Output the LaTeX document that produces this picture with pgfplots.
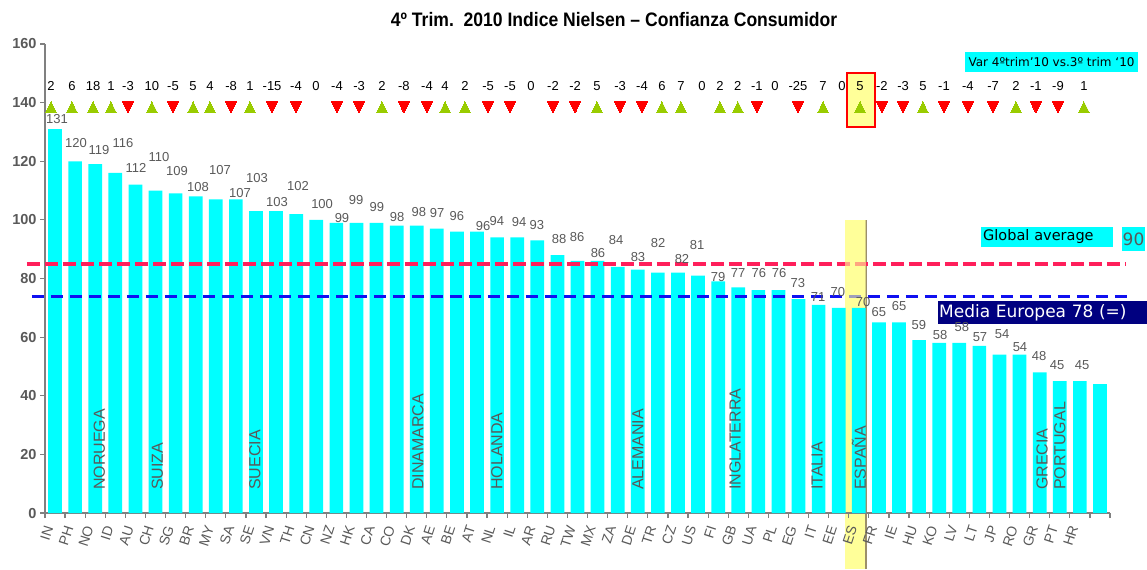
\documentclass[border=0pt]{standalone}
\usepackage{pgfplots}
\pgfplotsset{compat=1.18}
\usepackage{fontspec}
\setmainfont{Liberation Sans}
\newfontfamily\dejavu{DejaVu Sans}
\usepackage{graphicx}
\definecolor{barcyan}{HTML}{00FFFF}
\definecolor{axgray}{HTML}{808080}
\definecolor{txtgray}{HTML}{595959}
\definecolor{upgreen}{HTML}{99CC00}
\definecolor{downred}{HTML}{FF0000}
\definecolor{avgred}{HTML}{FF1F5B}
\definecolor{eublue}{HTML}{1010F0}
\definecolor{hlyellow}{HTML}{FFFF99}
\definecolor{navybox}{HTML}{000080}
\definecolor{hlline}{HTML}{9C8F6A}

\begin{document}
\begin{tikzpicture}
\begin{axis}[
  set layers,
  scale only axis, width=1065bp, height=469bp,
  xmin=-0.5, xmax=52.5, ymin=0, ymax=160,
  clip=false,
  axis x line*=bottom, axis y line*=left,
  axis line style={draw=axgray, line width=1.5bp},
  ytick={0,20,...,160},
  xtick={0,...,52},
  xticklabels={IN,PH,NO,ID,AU,CH,SG,BR,MY,SA,SE,VN,TH,CN,NZ,HK,CA,CO,DK,AE,BE,AT,NL,IL,AR,RU,TW,MX,ZA,DE,TR,CZ,US,FI,GB,UA,PL,EG,IT,EE,ES,FR,IE,HU,KO,LV,LT,JP,RO,GR,PT,HR,{}},
  minor xtick={-0.5,0.5,...,52.5},
  tick align=outside,
  major tick length=5bp, minor tick length=5bp,
  major x tick style={draw=none},
  minor x tick style={draw=axgray, line width=1.2bp},
  ytick style={draw=axgray, line width=1.2bp},
  /pgf/number format/assume math mode=true,
  yticklabel style={font=\bfseries\fontsize{14.5bp}{16bp}\selectfont, text=txtgray},
  xticklabel style={font=\fontsize{14bp}{15bp}\selectfont, text=txtgray, xshift=-6bp, yshift=-8bp, rotate=72, anchor=east, inner sep=0pt},
]
\coordinate (BL) at (rel axis cs:0,0);
\coordinate (TR) at (rel axis cs:1,1);

% ES highlight (behind bars and tick labels)
\begin{pgfonlayer}{axis background}
\fill[hlyellow] (axis cs:39.31,-19.1) rectangle (axis cs:40.36,100);
\draw[hlline, line width=1.2bp] (axis cs:40.36,-19.1) -- (axis cs:40.36,100);
\end{pgfonlayer}

% bars
\addplot[ybar, bar width=13.7bp, bar shift=0pt, fill=barcyan, draw=none] coordinates {
(0,131)(1,120)(2,119)(3,116)(4,112)(5,110)(6,109)(7,108)(8,107)(9,107)
(10,103)(11,103)(12,102)(13,100)(14,99)(15,99)(16,99)(17,98)(18,98)(19,97)
(20,96)(21,96)(22,94)(23,94)(24,93)(25,88)(26,86)(27,86)(28,84)(29,83)
(30,82)(31,82)(32,81)(33,79)(34,77)(35,76)(36,76)(37,73)(38,71)(39,70)
(40,70)(41,65)(42,65)(43,59)(44,58)(45,58)(46,57)(47,54)(48,54)(49,48)
(50,45)(51,45)(52,44)};

% reference lines
\addplot[avgred, line width=3.5bp, dash pattern=on 13bp off 5bp] coordinates {(-1.40,85) (53.25,85)};
\addplot[eublue, line width=3bp, dash pattern=on 12bp off 7bp] coordinates {(-1.15,74) (53.5,74)};
\fill[hlyellow, opacity=0.6] (axis cs:39.31,70.6) rectangle (axis cs:40.36,100);

% value labels
\addplot[draw=none, mark=none, nodes near coords, point meta=explicit symbolic,
  nodes near coords style={anchor=center, font=\fontsize{13bp}{14bp}\selectfont, text=txtgray, inner sep=0pt}]
  table[x=x, y=y, meta=t] {
x y t
0.10 134.4 131
1.04 126.2 120
2.19 123.8 119
3.38 126.2 116
4.03 117.7 112
5.17 121.5 110
6.07 116.7 109
7.11 111.2 108
8.21 117.0 107
9.20 109.2 107
10.05 114.3 103
11.05 106.1 103
12.09 111.6 102
13.29 105.4 100
14.28 100.6 99
14.98 106.8 99
16.02 104.4 99
17.02 101.0 98
18.11 102.7 98
19.01 102.4 97
20.00 101.3 96
21.30 97.9 96
21.99 99.6 94
23.09 99.3 94
23.98 98.3 93
25.08 93.5 88
25.98 94.2 86
27.02 88.7 86
27.92 93.1 84
29.01 87.3 83
30.01 92.1 82
31.20 86.7 82
31.95 91.4 81
33.00 80.5 79
33.99 81.9 77
35.03 81.9 76
36.03 81.9 76
36.97 78.5 73
37.97 73.7 71
38.96 75.4 70
40.21 72.0 70
41.00 68.6 65
42.00 70.6 65
42.99 64.1 59
44.04 60.7 58
45.13 63.5 58
46.03 60.0 57
47.13 61.1 54
48.02 56.6 54
48.97 53.6 48
49.87 50.5 45
51.11 50.5 45
};

% country names inside bars
\addplot[draw=none, mark=none, nodes near coords, point meta=explicit symbolic,
  nodes near coords style={rotate=90, anchor=west, font=\fontsize{16bp}{18bp}\selectfont, text=txtgray, inner sep=0pt}]
  table[x=x, y=y, meta=t] {
x y t
2.20 7.85 NORUEGA
5.09 7.85 SUIZA
9.95 7.85 SUECIA
18.06 7.85 DINAMARCA
21.99 7.85 HOLANDA
29.01 7.85 ALEMANIA
33.84 7.85 INGLATERRA
37.93 7.85 ITALIA
40.01 7.85 ESPAÑA
49.12 7.85 GRECIA
50.01 7.85 PORTUGAL
};

% highlight box around Spain variation
\draw[downred, line width=1.5bp, fill=hlyellow] (axis cs:39.41,131.7) rectangle (axis cs:40.81,150.1);

% variation triangles
\addplot[upgreen, only marks, mark=triangle*, mark size=7.3bp, mark options={xscale=0.85, fill=upgreen, draw=upgreen, line width=0pt}] table[x=x, y=y] {
x y
-0.20 137.8
0.84 137.8
1.89 137.8
2.78 137.8
4.82 137.8
6.87 137.8
7.71 137.8
9.70 137.8
16.27 137.8
19.41 137.8
20.40 137.8
26.97 137.8
30.20 137.8
31.15 137.8
33.09 137.8
33.98 137.8
38.22 137.8
40.06 137.8
43.19 137.8
47.82 137.8
51.20 137.8
};
\addplot[downred, only marks, mark=triangle*, mark size=7.3bp, mark options={rotate=180, xscale=0.85, fill=downred, draw=downred, line width=0pt}] table[x=x, y=y] {
x y
3.63 139.0
5.87 139.0
8.76 139.0
10.80 139.0
11.99 139.0
14.03 139.0
15.13 139.0
17.36 139.0
18.51 139.0
21.55 139.0
22.64 139.0
24.78 139.0
25.88 139.0
28.12 139.0
29.21 139.0
34.93 139.0
36.97 139.0
41.15 139.0
42.20 139.0
44.24 139.0
45.43 139.0
46.68 139.0
48.81 139.0
49.91 139.0
};

% variation values
\addplot[draw=none, mark=none, nodes near coords, point meta=explicit symbolic,
  nodes near coords style={anchor=center, font=\fontsize{13bp}{15bp}\selectfont, text=black, inner sep=0pt}]
  table[x=x, y=y, meta=t] {
x y t
-0.20 145.7 2
0.84 145.7 6
1.89 145.7 18
2.78 145.7 1
3.63 145.7 -3
4.82 145.7 10
5.87 145.7 -5
6.87 145.7 5
7.71 145.7 4
8.76 145.7 -8
9.70 145.7 1
10.80 145.7 -15
11.99 145.7 -4
12.99 145.7 0
14.03 145.7 -4
15.13 145.7 -3
16.27 145.7 2
17.36 145.7 -8
18.51 145.7 -4
19.41 145.7 4
20.40 145.7 2
21.55 145.7 -5
22.64 145.7 -5
23.69 145.7 0
24.78 145.7 -2
25.88 145.7 -2
26.97 145.7 5
28.12 145.7 -3
29.21 145.7 -4
30.20 145.7 6
31.15 145.7 7
32.19 145.7 0
33.09 145.7 2
33.98 145.7 2
34.93 145.7 -1
35.83 145.7 0
36.97 145.7 -25
38.22 145.7 7
39.16 145.7 0
40.06 145.7 5
41.15 145.7 -2
42.20 145.7 -3
43.19 145.7 5
44.24 145.7 -1
45.43 145.7 -4
46.68 145.7 -7
47.82 145.7 2
48.81 145.7 -1
49.91 145.7 -9
51.20 145.7 1
};

% title and boxes
\node[font=\bfseries\fontsize{19.5bp}{22bp}\selectfont] at (axis cs:27.82,168.2)
  {\scalebox{0.9}[1]{4º Trim.\ \ 2010 Indice Nielsen – Confianza Consumidor}};
\node[fill=barcyan, inner sep=0pt, minimum width=173bp, minimum height=20bp,
  font=\dejavu\fontsize{12bp}{14bp}\selectfont] at (axis cs:49.59,153.9) {Var 4ºtrim’10 vs.3º trim ‘10};
\node[fill=barcyan, anchor=west, inner xsep=2bp, inner ysep=0pt, text width=128bp, align=left,
  minimum height=20bp, font=\dejavu\fontsize{14.5bp}{16bp}\selectfont] at (axis cs:46.08,94.2) {Global average};
\node[fill=barcyan, inner sep=0pt, minimum width=23bp, minimum height=24bp, text=txtgray,
  font=\dejavu\fontsize{17bp}{19bp}\selectfont] at (axis cs:53.67,93.5) {90};
\node[fill=navybox, text=white, anchor=west, inner xsep=1bp, inner ysep=0pt, text width=207bp, align=left,
  minimum height=23bp, font=\dejavu\fontsize{17bp}{19bp}\selectfont] at (axis cs:43.94,68.4) {Media Europea 78 (=)};
\end{axis}
\pgfresetboundingbox
\path ([shift={(-45bp,-56bp)}]BL) rectangle ([shift={(37bp,44bp)}]TR);
\end{tikzpicture}
\end{document}
